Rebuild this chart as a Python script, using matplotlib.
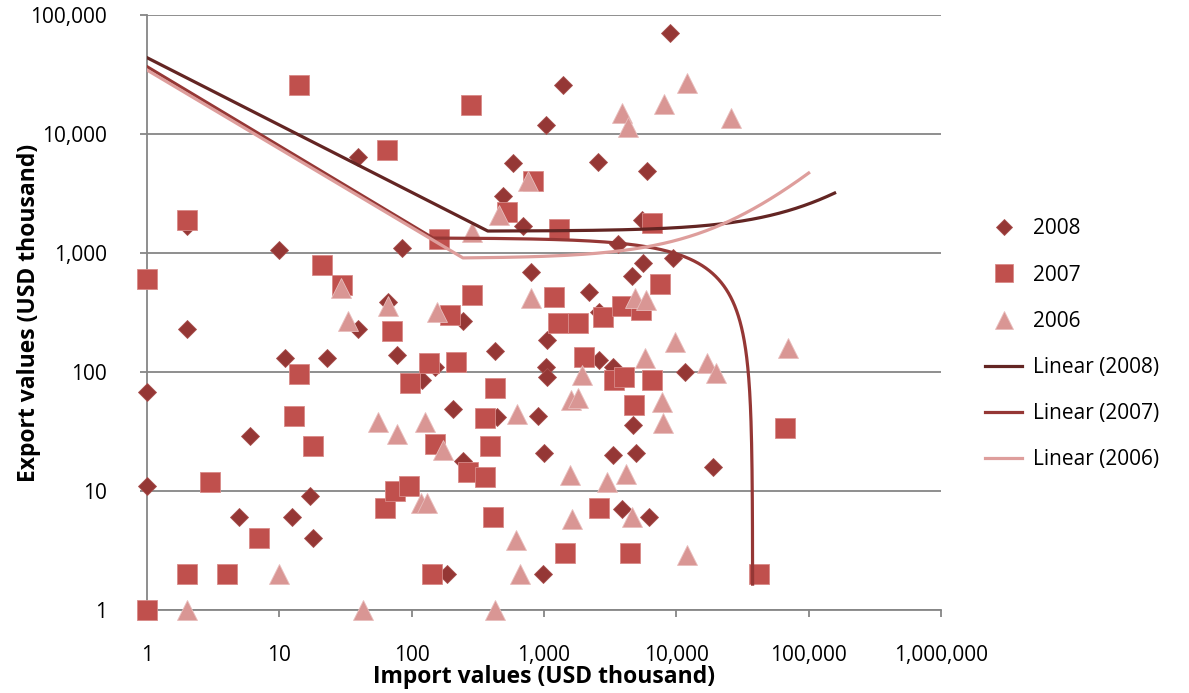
import numpy as np
import matplotlib
matplotlib.use("Agg")
import matplotlib.pyplot as plt
from matplotlib.ticker import FixedLocator, FuncFormatter, NullLocator

plt.rcParams['font.family'] = ['Open Sans', 'DejaVu Sans']

# 2008 series (import, export) in USD thousand
imp_2008 = [1, 1, 2, 2, 5, 6, 10, 11, 12.5, 17, 18, 23, 39, 39, 66, 77, 84, 119, 150, 184,
            205, 244, 244, 425, 440, 489, 581, 690, 800, 900, 980, 1000, 1030, 1030, 1050,
            1050, 1400, 2200, 2550, 2600, 2600, 3300, 3300, 3600, 3900, 4600, 4700, 5000,
            5500, 5600, 6000, 6200, 9000, 9400, 11600, 19000]
exp_2008 = [68, 11, 1700, 230, 6, 29, 1050, 130, 6, 9, 4, 130, 6400, 230, 390, 139, 1100, 86,
            110, 2, 49, 270, 18, 150, 42, 3000, 5700, 1700, 690, 43, 2, 21, 12000, 110, 185,
            91, 26000, 470, 5800, 320, 126, 110, 20, 1200, 7, 640, 36, 21, 1900, 820, 4900,
            6, 70000, 910, 100, 16]

# 2007 series
imp_2007 = [1, 1, 2, 2, 3, 4, 7, 13, 14, 14, 18, 21, 30, 63, 65, 71, 75, 95, 97, 135, 142,
            150, 160, 195, 216, 266, 280, 285, 360, 360, 390, 410, 430, 524, 823, 1200, 1270,
            1300, 1440, 1800, 2000, 2800, 2600, 3400, 3900, 4000, 4500, 4800, 5400, 6500,
            6600, 7500, 42000, 66000]
exp_2007 = [600, 1, 1900, 2, 12, 2, 4, 43, 26000, 97, 24, 800, 540, 7.2, 7300, 220, 10, 11,
            81, 119, 2, 25, 1300, 300, 121, 14.5, 17500, 440, 41, 13, 24, 6, 73, 2200, 4000,
            430, 260, 1600, 3, 260, 134, 290, 7.2, 85, 360, 90, 3, 53, 330, 1800, 86, 550,
            2, 34]

# 2006 series
imp_2006 = [2, 10, 29, 33, 43, 56, 66, 77, 117, 126, 130, 155, 172, 285, 430, 456, 610, 620,
            660, 755, 800, 1570, 1600, 1620, 1800, 1950, 3000, 3900, 4200, 4300, 4600, 4900,
            5800, 5900, 7800, 7900, 8000, 9700, 12000, 12000, 17000, 20000, 26000, 70000]
exp_2006 = [1, 2, 510, 270, 1, 38, 360, 30, 8, 38, 8, 320, 22, 1500, 1, 2100, 3.9, 44, 2,
            4000, 420, 13.6, 58, 5.8, 61, 94, 12, 15000, 14, 11500, 6, 420, 130, 400, 56, 37,
            18000, 180, 27000, 2.9, 120, 98, 13500, 160]

# linear trendlines as Excel draws them on log axes
trend_labels = ['Linear (2008)', 'Linear (2007)', 'Linear (2006)']
trend_start = [43800, 36800, 34500]   # value drawn at import = 1
trend_knee = [376, 145, 244]          # first sample point
trend_icpt = [1526, 1340, 900]
trend_slope = [0.0106, -0.0355, 0.038]
trend_end = [157000, 37700, 100000]

x_ticks = [1, 10, 100, 1000, 10000, 100000, 1000000]
y_ticks = [1, 10, 100, 1000, 10000, 100000]

c_2008 = '#953735'
c_2007 = '#C0504D'
c_2006 = '#D99694'
trend_colors = ['#632523', '#953735', '#DE9E9C']

fig = plt.figure(figsize=(11.89, 6.93), dpi=100)
ax = fig.add_axes([147 / 1189, 1 - 610 / 693, 794 / 1189, 595 / 693])

ax.plot(imp_2008, exp_2008, linestyle='none', marker='D', ms=9.5, color=c_2008,
        mec='#A8504E', mew=0.6, label='2008', zorder=3, clip_on=False)
ax.plot(imp_2007, exp_2007, linestyle='none', marker='s', ms=14, color=c_2007,
        mec='#D88A88', mew=0.6, label='2007', zorder=4, clip_on=False)
ax.plot(imp_2006, exp_2006, linestyle='none', marker='^', ms=14.5, color=c_2006,
        mec='#E8BDBC', mew=0.6, label='2006', zorder=5, clip_on=False)

for i in range(3):
    xs = np.linspace(trend_knee[i], trend_end[i], 400)
    ys = trend_icpt[i] + trend_slope[i] * xs
    xs = np.concatenate([[1], xs])
    ys = np.concatenate([[trend_start[i]], ys])
    ax.plot(xs, ys, color=trend_colors[i], lw=2.3, label=trend_labels[i], zorder=6)

ax.set_xscale('log')
ax.set_yscale('log')
ax.set_xlim(1, 1000000)
ax.set_ylim(1, 100000)

fmt = FuncFormatter(lambda v, p: '{:,.0f}'.format(v))
ax.xaxis.set_major_locator(FixedLocator(x_ticks))
ax.yaxis.set_major_locator(FixedLocator(y_ticks))
ax.xaxis.set_minor_locator(NullLocator())
ax.yaxis.set_minor_locator(NullLocator())
ax.xaxis.set_major_formatter(fmt)
ax.yaxis.set_major_formatter(fmt)

ax.grid(axis='y', color='#868686', lw=1.3)
ax.set_axisbelow(True)
for s in ['top', 'right']:
    ax.spines[s].set_visible(False)
for s in ['left', 'bottom']:
    ax.spines[s].set_color('#868686')
    ax.spines[s].set_linewidth(1.3)
ax.tick_params(axis='both', colors='#868686', width=1.3, length=5, labelcolor='black',
               labelsize=15)
ax.tick_params(axis='y', pad=24)
ax.tick_params(axis='x', pad=20)

ax.set_xlabel('Import values (USD thousand)', fontsize=16.5, fontweight='bold')
ax.set_ylabel('Export values (USD thousand)', fontsize=16.5, fontweight='bold')
ax.xaxis.set_label_coords(0.5, -0.092)
ax.yaxis.set_label_coords(-0.133, 0.5)

fig.legend(loc='center left', bbox_to_anchor=(0.8125, 0.503), frameon=False, fontsize=15,
           labelspacing=1.21, handlelength=1.8, handletextpad=0.5, markerscale=0.9)

fig.savefig('out.png', dpi=100)
